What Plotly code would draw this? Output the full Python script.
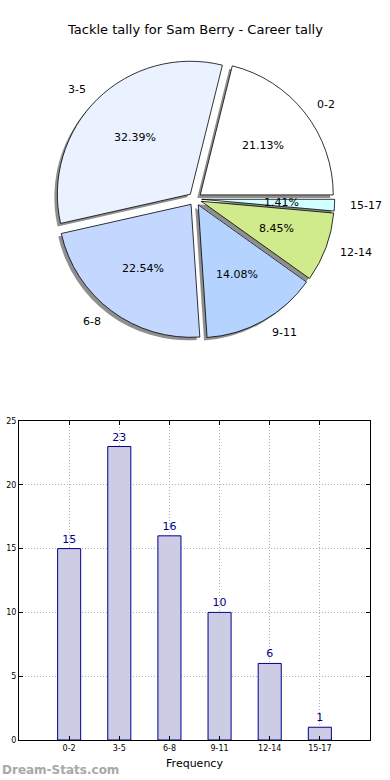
import math
import plotly.graph_objects as go

# ---- data ----
categories = ["0-2", "3-5", "6-8", "9-11", "12-14", "15-17"]
counts = [15, 23, 16, 10, 6, 1]
pie_colors = ["#FFFFFF", "#EAF2FF", "#C4D8FF", "#B4D4FF", "#CFEB8C", "#D2FFFF"]
title_text = "Tackle tally for Sam Berry - Career tally"
x_title = "Frequency"
y_ticks = [0, 5, 10, 15, 20, 25]
watermark = "Dream-Stats.com"

W, H = 390, 780
FONT = "DejaVu Sans"

total = sum(counts)
# plotly counterclockwise pies put slice 0 clockwise of the rotation angle;
# make slice 0 start at 3 o'clock and run counterclockwise (matplotlib style)
rot = 90 - 360.0 * counts[0] / total

# ---- pie geometry (pixels) ----
cx, cy = 195, 199
r = 133
pull = 0.05
D = 2 * r * (1 + pull)

def px_dom_x(x0, x1):
    return [x0 / W, x1 / W]

def px_dom_y(y0, y1):
    return [1 - y1 / H, 1 - y0 / H]

fig = go.Figure()

# shadow pie
sh = 3
fig.add_trace(go.Pie(
    values=counts, labels=categories, sort=False, direction="counterclockwise",
    rotation=rot, pull=[pull] * len(counts), textinfo="none", hoverinfo="skip",
    marker=dict(colors=["#8f8f8f"] * len(counts), line=dict(width=0)),
    domain=dict(x=px_dom_x(cx - D / 2 - sh, cx + D / 2 - sh),
                y=px_dom_y(cy - D / 2 + sh, cy + D / 2 + sh)),
    showlegend=False,
))
# main pie
fig.add_trace(go.Pie(
    values=counts, labels=categories, sort=False, direction="counterclockwise",
    rotation=rot, pull=[pull] * len(counts), textinfo="none",
    marker=dict(colors=pie_colors, line=dict(color="black", width=0.8)),
    domain=dict(x=px_dom_x(cx - D / 2, cx + D / 2),
                y=px_dom_y(cy - D / 2, cy + D / 2)),
    showlegend=False,
))

annotations = []
start = 0.0
for lab, v in zip(categories, counts):
    frac = v / total
    mid = (start + frac / 2) * 2 * math.pi
    start += frac
    c, s = math.cos(mid), math.sin(mid)
    lx = cx + (pull + 1.1) * r * c
    ly = cy - (pull + 1.1) * r * s
    annotations.append(dict(
        x=lx / W, y=1 - ly / H, xref="paper", yref="paper", text=lab,
        showarrow=False, xanchor="left" if c > 0 else "right", yanchor="middle",
        font=dict(family=FONT, size=11, color="black")))
    px = cx + (pull + 0.6) * r * c
    py = cy - (pull + 0.6) * r * s
    annotations.append(dict(
        x=px / W, y=1 - py / H, xref="paper", yref="paper",
        text="%.2f%%" % (100 * frac),
        showarrow=False, xanchor="center", yanchor="middle",
        font=dict(family=FONT, size=11, color="black")))

# ---- bar chart ----
fig.add_trace(go.Bar(
    x=categories, y=counts, width=0.46,
    marker=dict(color="#CCCCE5", line=dict(color="#00008B", width=1)),
    text=[str(v) for v in counts], textposition="outside",
    textfont=dict(family=FONT, size=11, color="#00008B"),
    cliponaxis=False, xaxis="x", yaxis="y", showlegend=False, hoverinfo="skip",
))

annotations.append(dict(
    x=195 / W, y=1 - 30 / H, xref="paper", yref="paper", text=title_text,
    showarrow=False, xanchor="center", yanchor="middle",
    font=dict(family=FONT, size=13, color="black")))
annotations.append(dict(
    x=0, y=1 - 770 / H, xref="paper", yref="paper", text="<b>" + watermark + "</b>",
    showarrow=False, xanchor="left", yanchor="middle",
    font=dict(family=FONT, size=12, color="#a8a8a8")))

grid = dict(showgrid=True, gridcolor="#b0b0b0", griddash="1px,2px", gridwidth=1)
fig.update_layout(
    width=W, height=H, margin=dict(l=0, r=0, t=0, b=0, autoexpand=False),
    paper_bgcolor="white", plot_bgcolor="white",
    font=dict(family=FONT, color="black"),
    annotations=annotations,
    xaxis=dict(domain=[19 / W, 370 / W], range=[-1, 6], type="category",
               showline=True, linecolor="black", linewidth=1, mirror="ticks",
               ticks="inside", ticklen=4, tickcolor="black", automargin=False,
               tickfont=dict(family=FONT, size=8),
               title=dict(text=x_title, font=dict(family=FONT, size=11), standoff=7),
               anchor="y", zeroline=False, **grid),
    yaxis=dict(domain=[1 - 740 / H, 1 - 421 / H], range=[0, 25],
               tickvals=y_ticks, automargin=False,
               showline=True, linecolor="black", linewidth=1, mirror="ticks",
               ticks="inside", ticklen=4, tickcolor="black",
               tickfont=dict(family=FONT, size=8), anchor="x", zeroline=False, **grid),
)

fig.write_html("out.html", config={"displayModeBar": False},
               post_script="document.body.style.margin='0px';")
